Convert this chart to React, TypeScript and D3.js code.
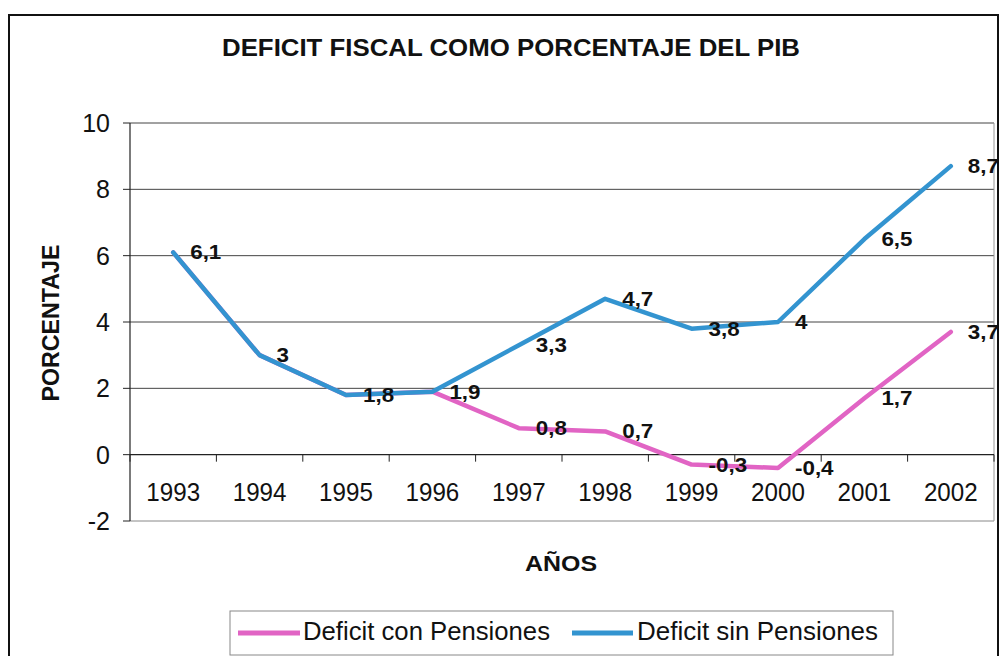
import React from "react";
import * as d3 from "d3";

const years = ["1993", "1994", "1995", "1996", "1997", "1998", "1999", "2000", "2001", "2002"];
const conPensiones = [6.1, 3, 1.8, 1.9, 0.8, 0.7, -0.3, -0.4, 1.7, 3.7];
const sinPensiones = [6.1, 3, 1.8, 1.9, 3.3, 4.7, 3.8, 4, 6.5, 8.7];
const yTicks = [-2, 0, 2, 4, 6, 8, 10];
const seriesNames = ["Deficit con Pensiones", "Deficit sin Pensiones"];
const title = "DEFICIT FISCAL COMO PORCENTAJE DEL PIB";
const yTitle = "PORCENTAJE";
const xTitle = "AÑOS";

const FONT = "'Liberation Sans', Arial, Helvetica, sans-serif";
const PINK = "#e164c4";
const BLUE = "#3394d0";

export default function App() {
  const x = d3.scaleBand<string>().domain(years).range([130, 994]).paddingInner(0).paddingOuter(0);
  const y = d3.scaleLinear().domain([-2, 10]).range([521, 123]);
  const cx = (d: string) => (x(d) as number) + x.bandwidth() / 2;

  const line = d3
    .line<number>()
    .x((_, i) => cx(years[i]))
    .y((v) => y(v));

  const fmt = (v: number) => d3.format("")(v).replace(".", ",").replace("−", "-");

  const left = 130;
  const right = 994;
  const boundaries = years.map((yr) => x(yr) as number).concat([right]);

  const labels: { x: number; y: number; t: string }[] = [];
  sinPensiones.forEach((v, i) => labels.push({ x: cx(years[i]), y: y(v), t: fmt(v) }));
  conPensiones.forEach((v, i) => {
    if (v !== sinPensiones[i]) labels.push({ x: cx(years[i]), y: y(v), t: fmt(v) });
  });

  return (
    <svg
      width={1004}
      height={656}
      style={{ position: "absolute", left: 0, top: 0, background: "#fff" }}
      fontFamily={FONT}
    >
      <rect x={0} y={0} width={1004} height={656} fill="#fff" />
      {/* outer frame */}
      <rect x={9} y={15} width={989} height={700} fill="none" stroke="#111" strokeWidth={2} />

      {/* title */}
      <text x={511} y={56} textAnchor="middle" fontWeight="bold" fontSize={23} textLength={578} lengthAdjust="spacingAndGlyphs" fill="#111">
        {title}
      </text>

      {/* gridlines */}
      {yTicks
        .filter((t) => t !== 0)
        .map((t) => (
          <line key={t} x1={left} x2={right} y1={y(t)} y2={y(t)} stroke={t === -2 ? "#888" : "#444"} strokeWidth={1} />
        ))}
      {/* right plot border */}
      <line x1={right} x2={right} y1={y(10)} y2={y(-2)} stroke="#999" strokeWidth={1} />

      {/* y axis */}
      <line x1={left} x2={left} y1={y(10)} y2={y(-2)} stroke="#222" strokeWidth={1.2} />
      {yTicks.map((t) => (
        <g key={t}>
          <line x1={left - 7} x2={left} y1={y(t)} y2={y(t)} stroke="#222" strokeWidth={1} />
          <text x={110} y={y(t) + 9} textAnchor="end" fontSize={25} fill="#111">
            {t}
          </text>
        </g>
      ))}

      {/* x axis at 0 */}
      <line x1={left} x2={right} y1={y(0)} y2={y(0)} stroke="#222" strokeWidth={1.2} />
      {boundaries.map((b, i) => (
        <line key={i} x1={b} x2={b} y1={y(0)} y2={y(0) + 7} stroke="#222" strokeWidth={1} />
      ))}
      {years.map((yr) => (
        <g key={yr} transform={`translate(${cx(yr)},501) scale(0.93,1)`}>
          <text x={0} y={0} textAnchor="middle" fontSize={26} fill="#111">
            {yr}
          </text>
        </g>
      ))}

      {/* series */}
      <path d={line(conPensiones) || ""} fill="none" stroke={PINK} strokeWidth={4.5} strokeLinejoin="round" strokeLinecap="round" />
      <path d={line(sinPensiones) || ""} fill="none" stroke={BLUE} strokeWidth={4.5} strokeLinejoin="round" strokeLinecap="round" />

      {/* data labels */}
      {labels.map((l, i) => (
        <g key={i} transform={`translate(${l.x + 17},${l.y + 7}) scale(1.12,1)`}>
          <text x={0} y={0} fontSize={20} fontWeight="bold" fill="#111">
            {l.t}
          </text>
        </g>
      ))}

      {/* axis titles */}
      <text
        transform={`translate(59,323) rotate(-90)`}
        textAnchor="middle"
        fontWeight="bold"
        fontSize={23}
        textLength={157}
        lengthAdjust="spacingAndGlyphs"
        fill="#111"
      >
        {yTitle}
      </text>
      <text x={561} y={571} textAnchor="middle" fontWeight="bold" fontSize={22} textLength={72} lengthAdjust="spacingAndGlyphs" fill="#111">
        {xTitle}
      </text>

      {/* legend */}
      <rect x={230} y={611} width={663} height={44} fill="#fff" stroke="#888" strokeWidth={1} />
      <line x1={238} x2={300} y1={633} y2={633} stroke={PINK} strokeWidth={5} />
      <text x={303} y={640} fontSize={25} textLength={247} lengthAdjust="spacingAndGlyphs" fill="#111">
        {seriesNames[0]}
      </text>
      <line x1={572} x2={633} y1={633} y2={633} stroke={BLUE} strokeWidth={5} />
      <text x={637} y={640} fontSize={25} textLength={241} lengthAdjust="spacingAndGlyphs" fill="#111">
        {seriesNames[1]}
      </text>
    </svg>
  );
}
